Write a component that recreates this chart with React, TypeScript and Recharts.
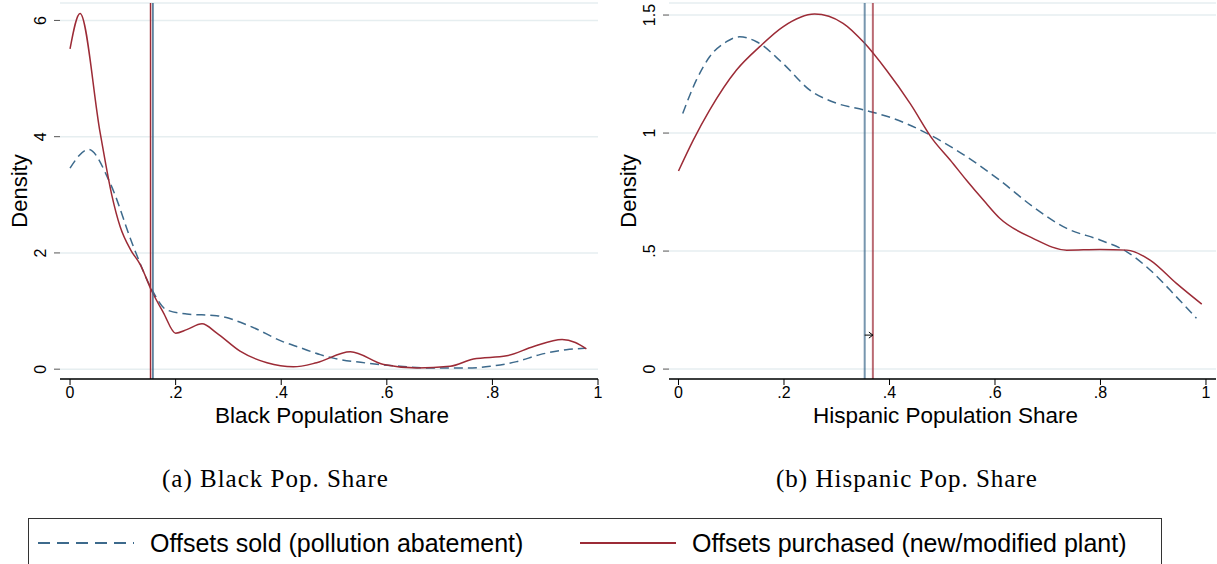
import React from 'react';
import {
  LineChart,
  Line,
  XAxis,
  YAxis,
  CartesianGrid,
  ReferenceLine,
} from 'recharts';

// Panel (a): Black population share
const blackSoldX = [0, 0.035, 0.076, 0.12, 0.155, 0.183, 0.221, 0.278, 0.341, 0.404, 0.436, 0.474, 0.499, 0.562, 0.625, 0.688, 0.752, 0.796, 0.846, 0.89, 0.94, 0.976];
const blackSoldY = [3.46, 3.78, 3.2, 2.11, 1.37, 1.02, 0.95, 0.92, 0.74, 0.47, 0.37, 0.25, 0.19, 0.105, 0.05, 0.02, 0.02, 0.05, 0.13, 0.25, 0.335, 0.36];
const blackBoughtX = [0, 0.019, 0.057, 0.079, 0.095, 0.115, 0.133, 0.155, 0.177, 0.2, 0.221, 0.25, 0.278, 0.322, 0.373, 0.423, 0.467, 0.531, 0.594, 0.657, 0.72, 0.764, 0.827, 0.878, 0.932, 0.957, 0.978];
const blackBoughtY = [5.51, 6.12, 4.07, 3.0, 2.45, 2.05, 1.8, 1.34, 0.97, 0.62, 0.68, 0.78, 0.62, 0.31, 0.11, 0.04, 0.11, 0.3, 0.08, 0.02, 0.05, 0.175, 0.23, 0.39, 0.51, 0.46, 0.35];
const blackMeans = { sold: 0.157, bought: 0.1525 };

// Panel (b): Hispanic population share
const hispSoldX = [0.008, 0.034, 0.059, 0.091, 0.116, 0.148, 0.198, 0.249, 0.3, 0.353, 0.407, 0.47, 0.546, 0.609, 0.672, 0.736, 0.799, 0.85, 0.894, 0.944, 0.982];
const hispSoldY = [1.083, 1.225, 1.323, 1.387, 1.408, 1.387, 1.295, 1.182, 1.126, 1.097, 1.062, 1.0, 0.9, 0.8, 0.688, 0.596, 0.547, 0.497, 0.42, 0.306, 0.215];
const hispBoughtX = [0, 0.028, 0.059, 0.11, 0.154, 0.198, 0.258, 0.312, 0.353, 0.394, 0.439, 0.483, 0.515, 0.546, 0.578, 0.609, 0.672, 0.736, 0.799, 0.85, 0.894, 0.944, 0.992];
const hispBoughtY = [0.839, 0.97, 1.097, 1.267, 1.366, 1.45, 1.504, 1.465, 1.38, 1.267, 1.126, 0.97, 0.886, 0.8, 0.716, 0.639, 0.554, 0.504, 0.507, 0.504, 0.462, 0.363, 0.275];
const hispMeans = { sold: 0.353, bought: 0.3685 };
const hispArrowY = 0.144;

const xTicks = [0, 0.2, 0.4, 0.6, 0.8, 1];
const blackYTicks = [0, 2, 4, 6];
const hispYTicks = [0, 0.5, 1, 1.5];

const BLUE = '#3d6a8c';
const RED = '#9c2b36';
const SANS = '"Liberation Sans", Arial, sans-serif';

const zip = (xs: number[], ys: number[]) => xs.map((x, i) => ({ x, y: ys[i] }));

// Stata-style number labels: .2 instead of 0.2
const fmt = (v: number) => {
  if (v === 0) return '0';
  const s = String(Math.round(v * 100) / 100);
  return s.startsWith('0.') ? s.slice(1) : s;
};

const YTick = (props: any) => {
  const { x, y, payload } = props;
  const tx = x - 8;
  return (
    <text
      x={tx}
      y={y}
      transform={`rotate(-90 ${tx} ${y})`}
      textAnchor="middle"
      fontSize={16}
      fontFamily={SANS}
      fill="#000"
    >
      {fmt(payload.value)}
    </text>
  );
};

const YLabel = (props: any) => {
  const vb = props.viewBox;
  const cx = vb.x + 27;
  const cy = vb.y + vb.height / 2;
  return (
    <text
      x={cx}
      y={cy}
      transform={`rotate(-90 ${cx} ${cy})`}
      textAnchor="middle"
      fontSize={22}
      fontFamily={SANS}
      fill="#000"
    >
      Density
    </text>
  );
};

const xLabel = (text: string) => (props: any) => {
  const vb = props.viewBox;
  return (
    <text
      x={vb.x + vb.width / 2 + 3}
      y={vb.y + 44}
      textAnchor="middle"
      fontSize={22.5}
      fontFamily={SANS}
      fill="#000"
    >
      {text}
    </text>
  );
};

const Arrow = (props: any) => {
  const { x1, y1, x2, y2 } = props;
  return (
    <g>
      <line x1={x1} y1={y1} x2={x2} y2={y2} stroke="#000" strokeWidth={1} />
      <path d={`M${x2 - 4},${y2 - 3} L${x2},${y2} L${x2 - 4},${y2 + 3}`} fill="none" stroke="#000" strokeWidth={1} />
    </g>
  );
};

interface PanelProps {
  sold: { x: number; y: number }[];
  bought: { x: number; y: number }[];
  xDomain: [number, number];
  yDomain: [number, number];
  yTicks: number[];
  means: { sold: number; bought: number };
  xTitle: string;
  width: number;
  marginRight: number;
  refWidth: number;
  refOpacity: number;
  arrowY?: number;
}

function Panel(p: PanelProps) {
  return (
    <LineChart
      width={p.width}
      height={440}
      margin={{ top: 3, right: p.marginRight, left: 0, bottom: 0 }}
    >
      <CartesianGrid horizontal vertical={false} stroke="#e6eef0" strokeWidth={1.5} />
      <XAxis
        type="number"
        dataKey="x"
        domain={p.xDomain}
        ticks={xTicks}
        allowDataOverflow
        tickFormatter={fmt}
        height={61}
        tickSize={6}
        tickMargin={2}
        axisLine={{ stroke: '#000', strokeWidth: 1.5 }}
        tickLine={{ stroke: '#000' }}
        tick={{ fill: '#000', fontSize: 16, fontFamily: SANS }}
        label={xLabel(p.xTitle)}
      />
      <YAxis
        type="number"
        dataKey="y"
        domain={p.yDomain}
        ticks={p.yTicks}
        allowDataOverflow
        width={60}
        tickSize={6}
        tickMargin={0}
        axisLine={false}
        tickLine={{ stroke: '#555' }}
        tick={<YTick />}
        label={YLabel}
      />
      <Line
        data={p.sold}
        dataKey="y"
        type="monotone"
        stroke={BLUE}
        strokeWidth={1.5}
        strokeDasharray="9 5"
        dot={false}
        isAnimationActive={false}
      />
      <Line
        data={p.bought}
        dataKey="y"
        type="monotone"
        stroke={RED}
        strokeWidth={1.5}
        dot={false}
        isAnimationActive={false}
      />
      <ReferenceLine x={p.means.sold} stroke={BLUE} strokeWidth={p.refWidth} strokeOpacity={p.refOpacity} />
      <ReferenceLine x={p.means.bought} stroke={RED} strokeWidth={p.refWidth} strokeOpacity={p.refOpacity} />
      {p.arrowY !== undefined && (
        <ReferenceLine
          segment={[
            { x: p.means.sold, y: p.arrowY },
            { x: p.means.bought, y: p.arrowY },
          ]}
          shape={<Arrow />}
        />
      )}
    </LineChart>
  );
}

const captionStyle: React.CSSProperties = {
  position: 'absolute',
  top: 465,
  fontFamily: '"Liberation Serif", "Times New Roman", serif',
  fontSize: 25,
  letterSpacing: 1,
  whiteSpace: 'nowrap',
  color: '#000',
};

export default function App() {
  return (
    <div style={{ position: 'absolute', left: 0, top: 0, width: 1217, height: 564, background: '#fff', overflow: 'hidden' }}>
      <div style={{ position: 'absolute', left: 0, top: 0 }}>
        <Panel
          sold={zip(blackSoldX, blackSoldY)}
          bought={zip(blackBoughtX, blackBoughtY)}
          xDomain={[-0.019, 1.0]}
          yDomain={[-0.169, 6.3]}
          yTicks={blackYTicks}
          means={blackMeans}
          xTitle="Black Population Share"
          width={610}
          marginRight={12}
          refWidth={1.5}
          refOpacity={1}
        />
      </div>
      <div style={{ position: 'absolute', left: 609, top: 0 }}>
        <Panel
          sold={zip(hispSoldX, hispSoldY)}
          bought={zip(hispBoughtX, hispBoughtY)}
          xDomain={[-0.018, 1.019]}
          yDomain={[-0.042, 1.551]}
          yTicks={hispYTicks}
          means={hispMeans}
          xTitle="Hispanic Population Share"
          width={608}
          marginRight={1}
          refWidth={2}
          refOpacity={0.7}
          arrowY={hispArrowY}
        />
      </div>
      <div style={{ ...captionStyle, left: 162 }}>(a) Black Pop. Share</div>
      <div style={{ ...captionStyle, left: 776 }}>(b) Hispanic Pop. Share</div>
      <div
        style={{
          position: 'absolute',
          left: 28,
          top: 518,
          width: 1132,
          height: 60,
          border: '1.5px solid #333',
          fontFamily: SANS,
          fontSize: 25,
          color: '#000',
        }}
      >
        <svg style={{ position: 'absolute', left: 9, top: 22 }} width={100} height={4}>
          <line x1={0} y1={2} x2={96} y2={2} stroke={BLUE} strokeWidth={2} strokeDasharray="12 7" />
        </svg>
        <span style={{ position: 'absolute', left: 121, top: 10, whiteSpace: 'nowrap' }}>Offsets sold (pollution abatement)</span>
        <svg style={{ position: 'absolute', left: 551, top: 22 }} width={100} height={4}>
          <line x1={0} y1={2} x2={96} y2={2} stroke={RED} strokeWidth={2} />
        </svg>
        <span style={{ position: 'absolute', left: 663, top: 10, whiteSpace: 'nowrap' }}>Offsets purchased (new/modified plant)</span>
      </div>
    </div>
  );
}
